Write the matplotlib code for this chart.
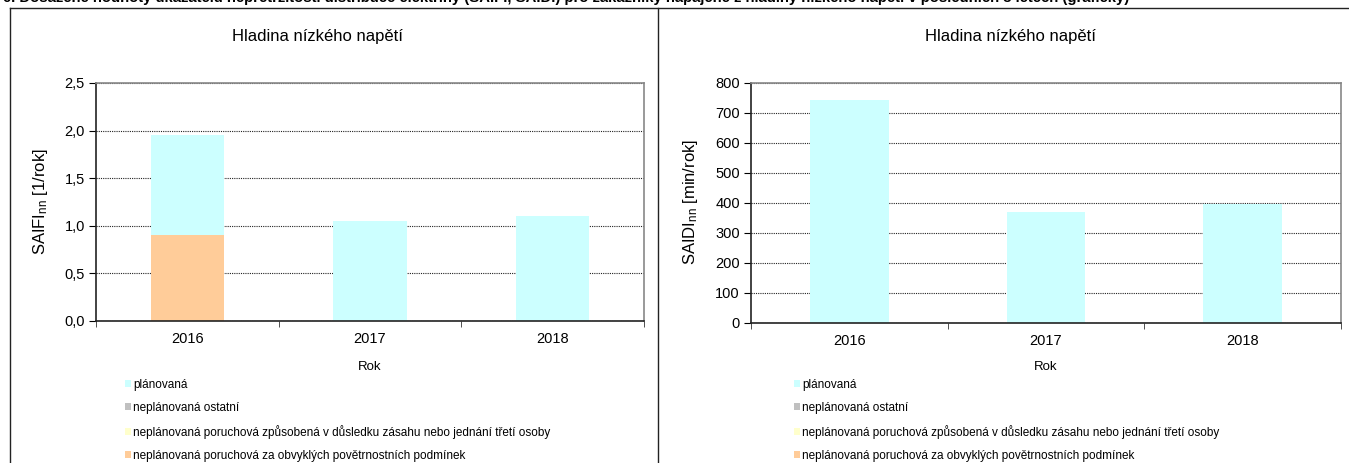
import matplotlib
matplotlib.use("Agg")
import matplotlib.pyplot as plt
from matplotlib.lines import Line2D
from matplotlib.ticker import FuncFormatter

plt.rcParams['font.family'] = ['Liberation Sans', 'DejaVu Sans']
plt.rcParams['mathtext.fontset'] = 'custom'
plt.rcParams['mathtext.rm'] = 'Liberation Sans'
plt.rcParams['mathtext.it'] = 'Liberation Sans'

years = ['2016', '2017', '2018']
series_names = ['plánovaná', 'neplánovaná ostatní',
                'neplánovaná poruchová způsobená v důsledku zásahu nebo jednání třetí osoby',
                'neplánovaná poruchová za obvyklých povětrnostních podmínek']
series_colors = ['#CCFFFF', '#C0C0C0', '#FFFFCC', '#FFCC99']

saifi_planovana = [1.05, 1.05, 1.10]
saifi_ostatni = [0, 0, 0]
saifi_treti_osoba = [0, 0, 0]
saifi_pocasi = [0.90, 0, 0]

saidi_planovana = [745, 370, 398]
saidi_ostatni = [0, 0, 0]
saidi_treti_osoba = [0, 0, 0]
saidi_pocasi = [0, 0, 0]

W, H = 1349, 463
fig = plt.figure(figsize=(W / 100, H / 100), dpi=100)


def px(x, y):
    return x / W, 1 - y / H


def draw_chart(rect, series, ylim, ystep, fmt, ylabel, ylabel_x, title_x, legend_x):
    x0, y0, x1, y1 = rect
    ax = fig.add_axes([x0 / W, 1 - y1 / H, (x1 - x0) / W, (y1 - y0) / H])
    pos = list(range(len(years)))
    # stacked from bottom: weather, third party, other, planned
    bottom = [0] * len(years)
    handles = {}
    for i in [3, 2, 1, 0]:
        b = ax.bar(pos, series[i], 0.4, bottom=bottom, color=series_colors[i],
                   linewidth=0, zorder=2)
        handles[i] = b
        bottom = [a + c for a, c in zip(bottom, series[i])]
    ax.set_xlim(-0.5, len(years) - 0.5)
    ax.set_ylim(0, ylim)
    ticks = [k * ystep for k in range(int(round(ylim / ystep)) + 1)]
    ax.set_yticks(ticks)
    ax.yaxis.set_major_formatter(FuncFormatter(fmt))
    ax.set_xticks(pos)
    ax.set_xticklabels(years)
    ax.set_xticks([p + 0.5 for p in [-1] + pos], minor=True)
    ax.tick_params(axis='x', which='major', length=0, pad=8, labelsize=10.5)
    ax.tick_params(axis='x', which='minor', length=4, direction='out', color='#333333')
    ax.tick_params(axis='y', length=5, direction='out', pad=3, labelsize=10.5)
    ax.grid(axis='y', linestyle=(0, (1, 1)), color='#222222', linewidth=0.8, zorder=1)
    ax.set_axisbelow(True)
    for s in ['top', 'right']:
        ax.spines[s].set_color('#888888')
        ax.spines[s].set_linewidth(1.2)
    for s in ['left', 'bottom']:
        ax.spines[s].set_color('#222222')
        ax.spines[s].set_linewidth(1.2)
    fig.text(*px(title_x, 37), 'Hladina nízkého napětí', ha='center', va='center', fontsize=12)
    fig.text(*px(ylabel_x, 202), ylabel, rotation=90, ha='center', va='center', fontsize=12)
    fig.text(*px(x0 + (x1 - x0) / 2, 367), 'Rok', ha='center', va='center', fontsize=9.5)
    ax.legend([handles[i] for i in range(4)], series_names,
              loc='upper left', bbox_to_anchor=px(legend_x, 379),
              bbox_transform=fig.transFigure, frameon=False, fontsize=8.5,
              handlelength=0.5, handleheight=0.5, handletextpad=0.2,
              labelspacing=0.92, borderaxespad=0, borderpad=0)
    return ax


draw_chart((96, 83, 644, 321),
           [saifi_planovana, saifi_ostatni, saifi_treti_osoba, saifi_pocasi],
           2.5, 0.5, lambda v, p: f'{v:.1f}'.replace('.', ','),
           r'SAIFI$_{\mathrm{nn}}$ [1/rok]', 40, 317, 125)
draw_chart((751, 83, 1341, 323),
           [saidi_planovana, saidi_ostatni, saidi_treti_osoba, saidi_pocasi],
           800, 100, lambda v, p: f'{v:.0f}',
           r'SAIDI$_{\mathrm{nn}}$ [min/rok]', 690, 1010, 794)

# panel frames
for xs, ys in [((10, 10), (8, 470)), ((10, 1349), (8, 8)), ((658, 658), (8, 470))]:
    fig.add_artist(Line2D([x / W for x in xs], [1 - y / H for y in ys],
                          color='#222222', linewidth=1.0, transform=fig.transFigure))

fig.text(*px(3, 2), '6. Dosažené hodnoty ukazatelů nepřetržitosti distribuce elektřiny (SAIFI, SAIDI) '
         'pro zákazníky napájené z hladiny nízkého napětí v posledních 3 letech (grafický)',
         ha='left', va='baseline', fontsize=10.7, fontweight='bold')

fig.savefig('out.png', dpi=100)
